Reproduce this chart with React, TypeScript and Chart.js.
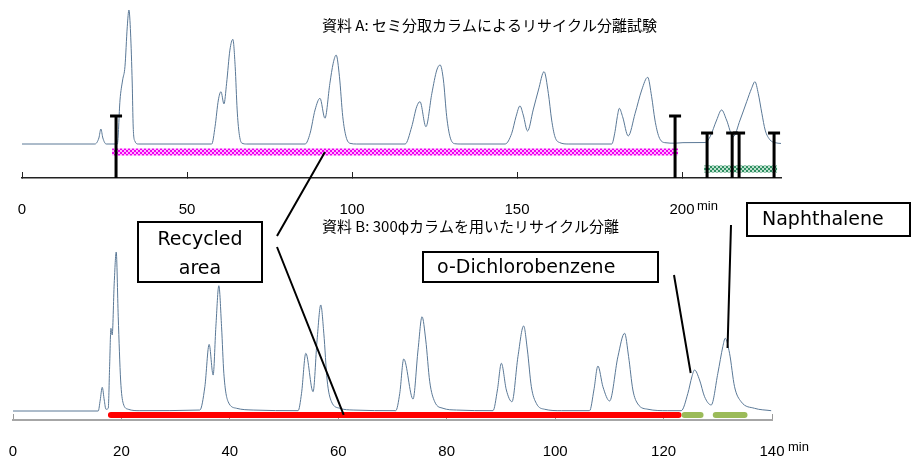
import React, { useEffect, useRef } from 'react';
import { Chart, registerables } from 'chart.js';

Chart.register(...registerables);

// ---------- text ----------
const titleA = '資料 A: セミ分取カラムによるリサイクル分離試験';
const titleB = '資料 B: 300φカラムを用いたリサイクル分離';
const timeUnit = 'min';
const labelRecycled = ['Recycled', 'area'];
const labelDcb = 'o-Dichlorobenzene';
const labelNaph = 'Naphthalene';

// ---------- tick labels ----------
const ticksA = [0, 50, 100, 150, 200];
const ticksB = [0, 20, 40, 60, 80, 100, 120, 140];

// ---------- run A (semi-prep column), time in min, signal in arbitrary units ----------
const runATime = [
  0, 22.1, 23.3, 23.9, 24.5, 25.5, 28.9, 29.7, 30.5, 31.2, 31.9, 32.4, 32.9, 33.4, 33.7, 34.2, 35.2,
  57.5, 58.5, 59.5, 60.3, 61.2, 62.0, 63.0, 63.9, 64.6, 65.2, 65.8, 66.6, 68.1,
  85.8, 87.3, 88.8, 90.3, 91.8, 93.3, 94.3, 95.2, 96.2, 97.2, 98.2, 99.4, 101.4,
  116.1, 118.1, 119.6, 120.6, 122.4, 124.2, 125.7, 126.7, 127.7, 128.7, 129.7, 131.2, 133.0,
  146.4, 148.4, 149.7, 150.9, 151.9, 153.2, 154.9, 156.5, 158.2, 159.5, 160.5, 161.5, 163.0, 165.5,
  178.7, 179.7, 180.4, 181.0, 182.0, 183.7, 185.8, 187.8, 189.6, 190.8, 191.8, 193.0, 194.8, 197.9,
  200.3, 207.0, 208.5, 210.5, 212.0, 213.5, 215.5, 217.6, 219.6, 221.1, 222.1, 223.1, 224.2, 225.2, 226.7, 228.2, 230.0,
];
const runASignal = [
  0, 0, 4.5, 11.2, 4.5, 0, 0, 32.8, 47.8, 57.7, 87.5, 100, 82.8, 45.5, 12.7, 2.2, 0,
  0, 12.9, 32.8, 39.0, 29.9, 45.3, 70.1, 78.1, 57.7, 25.4, 8.0, 0.7, 0,
  0, 8.0, 25.4, 34.1, 19.2, 45.3, 60.2, 66.4, 50.2, 20.4, 5.4, 0.5, 0,
  0, 12.9, 27.8, 31.6, 12.9, 37.8, 55.2, 59.0, 47.8, 20.4, 5.4, 0.2, 0,
  0, 8.0, 20.4, 28.4, 21.6, 9.7, 25.4, 40.3, 54.0, 37.8, 17.9, 5.4, 1.0, 0,
  0, 9.2, 20.4, 26.6, 20.4, 6.0, 22.9, 40.3, 49.8, 35.3, 17.9, 5.4, 1.0, 0.6,
  1.0, 1.1, 5.4, 17.9, 25.4, 17.9, 5.4, 17.9, 31.6, 41.6, 46.5, 37.8, 22.9, 10.4, 3.0, 1.0, 0.4,
];

// fraction windows of run A
const recycleA = [27.3, 198.8];
const collectA = [206.7, 228.8];
const tallCutsA = [28.5, 197.9];
const shortCutsA = [207.6, 215.2, 217.3, 227.9];

// ---------- run B (300 phi column) ----------
const runBTime = [
  0, 15.72, 16.09, 16.46, 16.83, 17.14, 17.57, 17.82, 18.06, 18.3, 18.67, 19.04, 19.41, 19.85, 20.33, 21.25, 23.41,
  34.47, 35.39, 36.18, 36.92, 37.42, 37.97, 38.47, 38.89, 39.69, 41.24, 44.29,
  52.59, 53.22, 54.01, 55.35, 56.09, 56.77, 57.33, 57.94, 58.75, 60.28, 62.73,
  70.6, 71.34, 72.07, 73.79, 74.71, 75.45, 76.13, 76.87, 77.79, 79.32, 81.79,
  88.54, 89.35, 90.08, 91.0, 92.04, 93.14, 94.19, 94.88, 95.61, 96.53, 98.06, 101.14,
  106.36, 107.15, 107.89, 108.81, 110.05, 111.58, 112.81, 113.55, 114.34, 115.26, 117.11, 120.79,
  123.26, 124.48, 125.22, 125.71, 126.64, 127.56, 128.79, 130.01, 130.93, 131.37, 132.17, 133.09, 134.32, 136.77, 139.85,
];
const runBSignal = [
  0, 0, 6.9, 14.9, 6.9, 1.1, 1.7, 27.9, 52.0, 47.8, 80.3, 100, 59.3, 19.5, 4.8, 1.1, 0.2,
  0.6, 15.3, 41.9, 22.6, 53.0, 78.8, 53.0, 23.7, 5.8, 1.7, 0.6,
  0.2, 11.1, 36.3, 12.1, 44.7, 66.7, 48.9, 19.5, 5.8, 1.7, 0.6,
  0.2, 11.1, 32.7, 7.5, 38.4, 59.3, 44.7, 18.4, 5.8, 1.7, 0.6,
  0.2, 13.2, 30.0, 13.2, 5.8, 34.2, 53.5, 38.4, 15.3, 4.8, 1.1, 0.2,
  0.2, 13.2, 28.3, 15.3, 6.3, 34.2, 48.9, 34.2, 13.2, 4.4, 1.1, 0.2,
  0.2, 11.1, 21.5, 25.8, 19.5, 9.0, 3.8, 23.7, 40.5, 45.7, 36.3, 15.3, 5.8, 1.7, 0.2,
];

// fraction windows of run B
const recycleB = [18.06, 122.76];
const collectB1 = [123.87, 126.82];
const collectB2 = [129.63, 134.93];

// annotation anchor points (time, signal)
const recycledPointerA = [91.8, -6.0];
const recycledPointerB = [61.0, -2.5];
const dcbPointer = [125.0, 23.9];
const naphPointer = [131.8, 39.6];

// levels (signal units)
const levelA = { axis: -25.37, top: 107.46, recycle: -6.0, collect: -18.7, tallCap: 20.9, shortCap: 8.2 };
const levelB = { axis: -5.66, top: 132.7, bar: -2.5 };

const TRACE = '#5a7896';
const TICK_FONT = { family: '"Liberation Sans", Arial, sans-serif', size: 15 };

function checker(dark: string, light: string) {
  const c = document.createElement('canvas');
  c.width = 4;
  c.height = 4;
  const g = c.getContext('2d')!;
  g.fillStyle = light;
  g.fillRect(0, 0, 4, 4);
  g.fillStyle = dark;
  g.fillRect(0, 0, 2, 2);
  g.fillRect(2, 2, 2, 2);
  return g.createPattern(c, 'repeat')!;
}

function segment(range: number[], y: number) {
  return [{ x: range[0], y }, { x: range[1], y }];
}

function cutMarkers(times: number[], cap: number) {
  const pts: any[] = [];
  times.forEach((t) => {
    pts.push({ x: t, y: levelA.axis });
    pts.push({ x: t, y: cap, cap: true });
    pts.push({ x: t, y: null });
  });
  return pts;
}

const noAutoPad = (s: any, h: number) => {
  s.height = h;
  s.paddingLeft = 0;
  s.paddingRight = 0;
  s.paddingTop = 0;
  s.paddingBottom = 0;
};

export default function App() {
  const refA = useRef<HTMLCanvasElement>(null);
  const refB = useRef<HTMLCanvasElement>(null);

  useEffect(() => {
    const pink = checker('#f000f0', '#ffb4ff');
    const green = checker('#2f8f62', '#bfe2cf');

    const chartA = new Chart(refA.current!, {
      type: 'line',
      data: {
        datasets: [
          {
            data: runATime.map((t, i) => ({ x: t, y: runASignal[i] })),
            borderColor: TRACE,
            borderWidth: 1,
            pointRadius: 0,
            cubicInterpolationMode: 'monotone',
            order: 3,
          },
          {
            data: segment(recycleA, levelA.recycle),
            borderColor: pink,
            borderWidth: 7,
            pointRadius: 0,
            order: 2,
          },
          {
            data: segment(collectA, levelA.collect),
            borderColor: green,
            borderWidth: 7,
            pointRadius: 0,
            order: 2,
          },
          {
            data: cutMarkers(tallCutsA, levelA.tallCap),
            borderColor: '#000',
            borderWidth: 3,
            pointStyle: 'line',
            pointBorderColor: '#000',
            pointBorderWidth: 3,
            pointRadius: (c: any) => (c.raw && c.raw.cap ? 6 : 0),
            spanGaps: false,
            order: 1,
          },
          {
            data: cutMarkers(shortCutsA, levelA.shortCap),
            borderColor: '#000',
            borderWidth: 3,
            pointStyle: 'line',
            pointBorderColor: '#000',
            pointBorderWidth: 3,
            pointRadius: (c: any) => (c.raw && c.raw.cap ? 6 : 0),
            spanGaps: false,
            order: 1,
          },
        ] as any,
      },
      options: {
        animation: false,
        responsive: false,
        devicePixelRatio: 1,
        events: [],
        layout: { autoPadding: false, padding: { left: 22, right: 134, top: 0, bottom: 0 } },
        plugins: { legend: { display: false }, tooltip: { enabled: false }, title: { display: false } },
        scales: {
          x: {
            type: 'linear',
            position: 'bottom',
            min: 0,
            max: 230,
            afterFit: (s: any) => noAutoPad(s, 279),
            afterBuildTicks: (s: any) => {
              s.ticks = ticksA.map((v) => ({ value: v }));
            },
            ticks: { font: TICK_FONT, color: '#000', padding: 29, maxRotation: 0, autoSkip: false },
            grid: { drawOnChartArea: false, drawTicks: true, tickLength: -6, color: '#222', tickWidth: 1 },
            border: { display: true, color: '#222', width: 1.5 },
          },
          y: { type: 'linear', display: false, min: levelA.axis, max: levelA.top },
        },
      } as any,
    });

    const annotations = {
      id: 'annotations',
      afterDraw(chart: any) {
        const ctx = chart.ctx as CanvasRenderingContext2D;
        const xa = chartA.scales.x;
        const ya = chartA.scales.y;
        const xb = chart.scales.x;
        const yb = chart.scales.y;
        ctx.save();
        ctx.fillStyle = '#000';
        ctx.textAlign = 'left';
        ctx.textBaseline = 'middle';
        ctx.font = '15px "Noto Sans CJK JP", sans-serif';
        ctx.fillText(titleA, 322, 25);
        ctx.fillText(titleB, 322, 226);

        ctx.font = '13px "Liberation Sans", Arial, sans-serif';
        ctx.fillText(timeUnit, xa.getPixelForValue(ticksA[ticksA.length - 1]) + 15, 206);
        ctx.fillText(timeUnit, xb.getPixelForValue(ticksB[ticksB.length - 1]) + 16, 447);

        // connectors
        ctx.strokeStyle = '#000';
        ctx.lineWidth = 2;
        ctx.beginPath();
        ctx.moveTo(xa.getPixelForValue(recycledPointerA[0]), ya.getPixelForValue(recycledPointerA[1]));
        ctx.lineTo(277, 236);
        ctx.moveTo(277, 247);
        ctx.lineTo(xb.getPixelForValue(recycledPointerB[0]), yb.getPixelForValue(recycledPointerB[1]));
        ctx.moveTo(674, 275);
        ctx.lineTo(xb.getPixelForValue(dcbPointer[0]), yb.getPixelForValue(dcbPointer[1]));
        ctx.moveTo(731, 225);
        ctx.lineTo(xb.getPixelForValue(naphPointer[0]), yb.getPixelForValue(naphPointer[1]));
        ctx.stroke();

        const box = (x: number, y: number, w: number, h: number) => {
          ctx.fillStyle = '#fff';
          ctx.fillRect(x, y, w, h);
          ctx.strokeRect(x, y, w, h);
          ctx.fillStyle = '#000';
        };
        ctx.font = '19px "DejaVu Sans", sans-serif';
        box(138, 222, 124, 60);
        ctx.textAlign = 'center';
        ctx.fillText(labelRecycled[0], 200, 240);
        ctx.fillText(labelRecycled[1], 200, 269);
        ctx.textAlign = 'left';
        box(423, 252, 235, 30);
        ctx.fillText(labelDcb, 437, 268);
        box(747, 203, 163, 33);
        ctx.fillText(labelNaph, 762, 220);
        ctx.restore();
      },
    };

    const chartB = new Chart(refB.current!, {
      type: 'line',
      data: {
        datasets: [
          {
            data: runBTime.map((t, i) => ({ x: t, y: runBSignal[i] })),
            borderColor: TRACE,
            borderWidth: 1,
            pointRadius: 0,
            cubicInterpolationMode: 'monotone',
            order: 1,
          },
          {
            data: segment(recycleB, levelB.bar),
            borderColor: '#ff0000',
            borderWidth: 6,
            borderCapStyle: 'round',
            pointRadius: 0,
            order: 3,
          },
          {
            data: segment(collectB1, levelB.bar),
            borderColor: '#9bbb59',
            borderWidth: 6,
            borderCapStyle: 'round',
            pointRadius: 0,
            order: 2,
          },
          {
            data: segment(collectB2, levelB.bar),
            borderColor: '#9bbb59',
            borderWidth: 6,
            borderCapStyle: 'round',
            pointRadius: 0,
            order: 2,
          },
        ] as any,
      },
      options: {
        animation: false,
        responsive: false,
        devicePixelRatio: 1,
        events: [],
        layout: { autoPadding: false, padding: { left: 13, right: 143, top: 200, bottom: 0 } },
        plugins: { legend: { display: false }, tooltip: { enabled: false }, title: { display: false } },
        scales: {
          x: {
            type: 'linear',
            position: 'bottom',
            min: 0,
            max: 140,
            afterFit: (s: any) => noAutoPad(s, 37),
            afterBuildTicks: (s: any) => {
              s.ticks = ticksB.map((v) => ({ value: v }));
            },
            ticks: { font: TICK_FONT, color: '#000', padding: 29, maxRotation: 0, autoSkip: false },
            grid: { drawOnChartArea: false, drawTicks: true, tickLength: -6, color: '#999', tickWidth: 1 },
            border: { display: true, color: '#a6a6a6', width: 2 },
          },
          y: { type: 'linear', display: false, min: levelB.axis, max: levelB.top },
        },
      } as any,
      plugins: [annotations],
    });

    return () => {
      chartB.destroy();
      chartA.destroy();
    };
  }, []);

  return (
    <div style={{ position: 'absolute', left: 0, top: 0, width: 915, height: 457, background: '#fff' }}>
      <canvas ref={refA} width={915} height={457} style={{ position: 'absolute', left: 0, top: 0, width: 915, height: 457 }} />
      <canvas ref={refB} width={915} height={457} style={{ position: 'absolute', left: 0, top: 0, width: 915, height: 457 }} />
    </div>
  );
}
